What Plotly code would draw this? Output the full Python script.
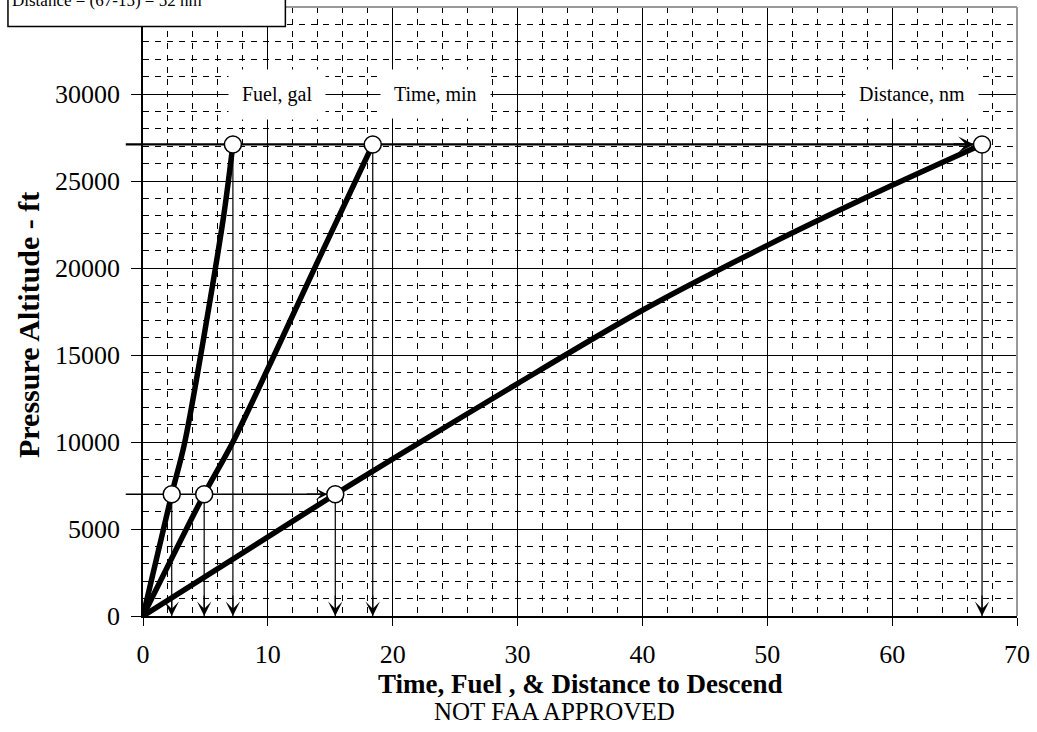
import plotly.graph_objects as go

# ---------------- data ----------------
fuel_alt = [0, 7000, 10000, 22700, 27100]
fuel_gal = [0, 2.3, 3.35, 6.4, 7.2]

time_alt = [0, 7000, 10000, 21000, 27100]
time_min = [0, 4.9, 7.2, 14.4, 18.4]

dist_alt = [0, 7000, 9240, 13360, 17570, 21300, 24750, 27100]
dist_nm = [0, 15.4, 20.5, 30, 40, 50, 60, 67.2]

# worked example: descent from 27100 ft down to 7000 ft
ex_alts = [7000, 27100]
ex_fuel = [2.3, 7.2]
ex_time = [4.9, 18.4]
ex_dist = [15.4, 67.2]

curve_labels = ["Fuel, gal", "Time, min", "Distance, nm"]
label_x = [10.75, 23.4, 61.6]
label_alt = 30000

note_text = "Distance = (67-15) = 52 nm"
x_ticks = [0, 10, 20, 30, 40, 50, 60, 70]
y_ticks = [0, 5000, 10000, 15000, 20000, 25000, 30000]
x_minor = list(range(0, 71, 2))
y_minor = list(range(0, 35001, 1000))

FONT = "Liberation Serif, Times New Roman, serif"

fig = go.Figure()

# vertical guide lines (circle -> axis)
vx, vy = [], []
for xs in (ex_fuel, ex_time, ex_dist):
    for xv, a in zip(xs, ex_alts):
        vx += [xv, xv, None]
        vy += [a, 0, None]
fig.add_trace(go.Scatter(x=vx, y=vy, mode="lines",
                         line=dict(color="black", width=1.2),
                         hoverinfo="skip", showlegend=False))

# horizontal guide lines (axis -> distance circle)
for a, d, w in zip(ex_alts, ex_dist, [1.6, 2.2]):
    fig.add_trace(go.Scatter(x=[0, d], y=[a, a], mode="lines",
                             line=dict(color="black", width=w),
                             hoverinfo="skip", showlegend=False))

# curves
for xs, ys in ((fuel_gal, fuel_alt), (time_min, time_alt), (dist_nm, dist_alt)):
    fig.add_trace(go.Scatter(x=xs, y=ys, mode="lines",
                             line=dict(color="black", width=5.5,
                                       shape="spline", smoothing=0.8),
                             hoverinfo="skip", showlegend=False))

# circles
cx, cy = [], []
for xs in (ex_fuel, ex_time, ex_dist):
    for xv, a in zip(xs, ex_alts):
        cx.append(xv)
        cy.append(a)
fig.add_trace(go.Scatter(x=cx, y=cy, mode="markers",
                         marker=dict(size=17, color="white",
                                     line=dict(color="black", width=1.5)),
                         hoverinfo="skip", showlegend=False))

annotations = []
# left stubs of the horizontal guides (outside the plot area)
for a, w in zip(ex_alts, [1.6, 2.2]):
    annotations.append(dict(x=0, y=a, ax=-1.5, ay=a, axref="x", ayref="y",
                            xref="x", yref="y", text="", showarrow=True,
                            arrowhead=0, arrowwidth=w, arrowcolor="black"))
# horizontal arrow heads at the distance circles
for a, d, w in zip(ex_alts, ex_dist, [1.6, 2.2]):
    annotations.append(dict(x=d, y=a, ax=-30, ay=0, xref="x", yref="y",
                            text="", showarrow=True, arrowhead=3,
                            arrowsize=1.2, arrowwidth=w, standoff=8,
                            arrowcolor="black"))
# vertical arrow heads at the axis
for xs in (ex_fuel, ex_time, ex_dist):
    for xv in xs:
        annotations.append(dict(x=xv, y=0, ax=0, ay=-22, xref="x", yref="y",
                                text="", showarrow=True, arrowhead=3,
                                arrowsize=2.0, arrowwidth=1.2,
                                arrowcolor="black"))
# curve labels
for t, lx in zip(curve_labels, label_x):
    annotations.append(dict(x=lx, y=label_alt, xref="x", yref="y", text=t,
                            showarrow=False, bgcolor="white", borderpad=13,
                            xanchor="center", yanchor="middle",
                            font=dict(family=FONT, size=20, color="black")))
# note box text (partly cut off at the top)
annotations.append(dict(x=-0.152, y=1.0107, xref="paper", yref="paper",
                        xanchor="left", yanchor="middle", text=note_text,
                        showarrow=False,
                        font=dict(family=FONT, size=17, color="black")))
# titles
annotations.append(dict(x=0.5, y=-0.112, xref="paper", yref="paper",
                        xanchor="center", yanchor="middle",
                        text="<b>Time, Fuel , &amp; Distance to Descend</b>",
                        showarrow=False,
                        font=dict(family=FONT, size=27, color="black")))
annotations.append(dict(x=0.471, y=-0.157, xref="paper", yref="paper",
                        xanchor="center", yanchor="middle",
                        text="NOT FAA APPROVED", showarrow=False,
                        font=dict(family=FONT, size=25, color="black")))
annotations.append(dict(x=-0.131, y=0.477, xref="paper", yref="paper",
                        xanchor="center", yanchor="middle",
                        text="<b>Pressure Altitude - ft</b>", textangle=-90,
                        showarrow=False,
                        font=dict(family=FONT, size=30, color="black")))

shapes = [
    # gray top/right border
    dict(type="line", xref="paper", yref="paper", x0=0, y0=1, x1=1, y1=1,
         line=dict(color="#999999", width=2)),
    dict(type="line", xref="paper", yref="paper", x0=1, y0=0, x1=1, y1=1,
         line=dict(color="#999999", width=2)),
    # note box
    dict(type="rect", xref="paper", yref="paper", x0=-0.1545, x1=0.1629,
         y0=0.968, y1=1.08, fillcolor="white",
         line=dict(color="black", width=1.5), layer="above"),
]

fig.update_layout(
    width=1037, height=732,
    margin=dict(l=143, r=18, t=7, b=116),
    paper_bgcolor="white", plot_bgcolor="white",
    showlegend=False,
    annotations=annotations,
    shapes=shapes,
    xaxis=dict(range=[0, 70], tickmode="array", tickvals=x_ticks,
               ticks="outside", ticklen=8, tickcolor="black", tickwidth=1,
               showline=True, linecolor="black", linewidth=1.5,
               showgrid=True, gridcolor="black", gridwidth=1,
               zeroline=False, ticklabelstandoff=6, tickformat="d",
               tickfont=dict(family=FONT, size=26, color="black"),
               minor=dict(tickmode="array", tickvals=x_minor, showgrid=True,
                          gridcolor="black", gridwidth=1,
                          griddash="6px,6px", ticks="")),
    yaxis=dict(range=[0, 35000], tickmode="array", tickvals=y_ticks,
               ticks="outside", ticklen=10, tickcolor="black", tickwidth=1,
               showline=True, linecolor="black", linewidth=1.5,
               showgrid=True, gridcolor="black", gridwidth=1,
               zeroline=False, ticklabelstandoff=6, tickformat="d",
               tickfont=dict(family=FONT, size=26, color="black"),
               minor=dict(tickmode="array", tickvals=y_minor, showgrid=True,
                          gridcolor="black", gridwidth=1,
                          griddash="6px,6px", ticks="")),
)

fig.write_html(
    "out.html",
    config={"displayModeBar": False},
    post_script="document.body.style.margin='0';document.body.style.overflow='hidden';",
)
